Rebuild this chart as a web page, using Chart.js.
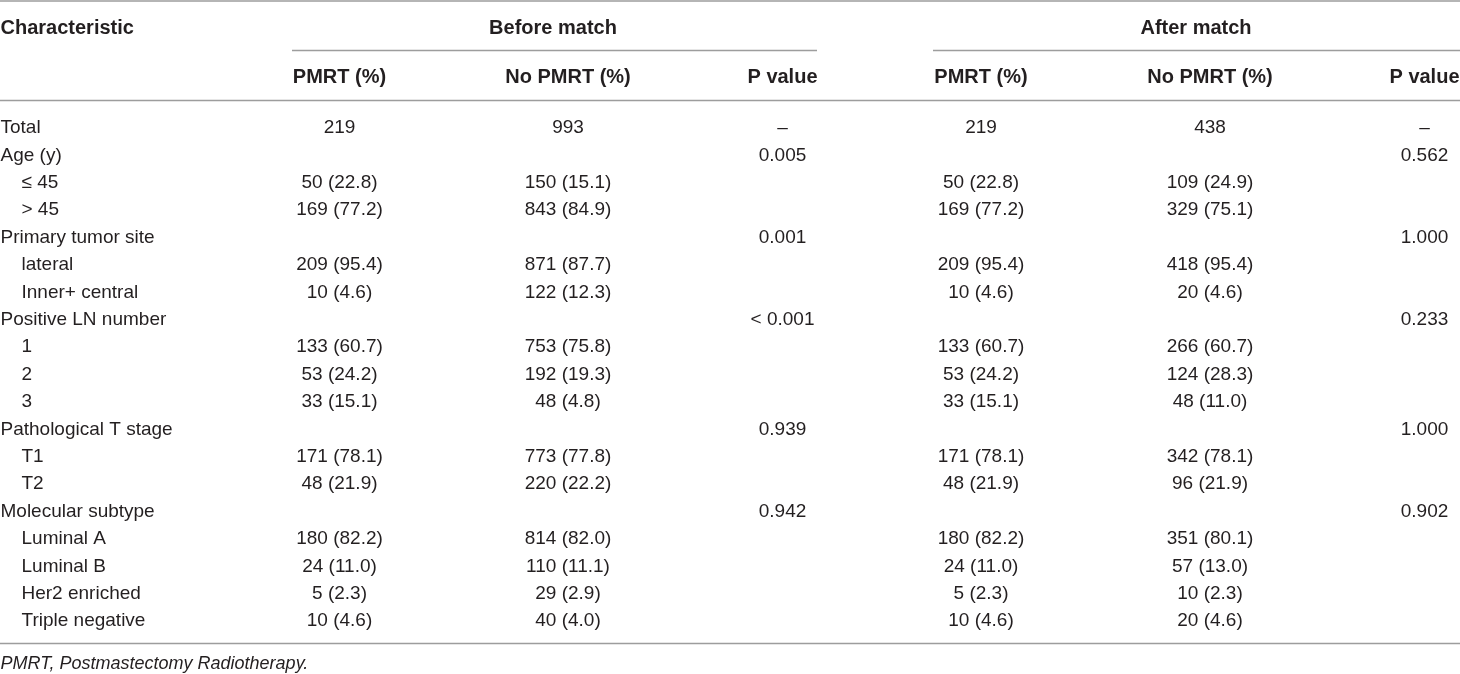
<!DOCTYPE html>
<html>
<head>
<meta charset="utf-8">
<script src="https://cdn.jsdelivr.net/npm/chart.js@4.4.0/dist/chart.umd.min.js"></script>
<style>
  html, body { margin: 0; padding: 0; background: #ffffff; }
  #wrap { width: 1460px; height: 674px; position: relative; }
</style>
</head>
<body>
<div id="wrap"><canvas id="c" width="1460" height="674"></canvas></div>
<script>
// ---------- DATA ----------
const rowLabels = ['Total', 'Age (y)', '≤ 45', '> 45', 'Primary tumor site', 'lateral', 'Inner+ central',
  'Positive LN number', '1', '2', '3', 'Pathological T stage', 'T1', 'T2',
  'Molecular subtype', 'Luminal A', 'Luminal B', 'Her2 enriched', 'Triple negative'];
const rowLevel = [0, 0, 1, 1, 0, 1, 1, 0, 1, 1, 1, 0, 1, 1, 0, 1, 1, 1, 1];

const beforePMRTn   = [219, null, 50, 169, null, 209, 10, null, 133, 53, 33, null, 171, 48, null, 180, 24, 5, 10];
const beforePMRTpct = [null, null, 22.8, 77.2, null, 95.4, 4.6, null, 60.7, 24.2, 15.1, null, 78.1, 21.9, null, 82.2, 11.0, 2.3, 4.6];
const beforeNoPMRTn   = [993, null, 150, 843, null, 871, 122, null, 753, 192, 48, null, 773, 220, null, 814, 110, 29, 40];
const beforeNoPMRTpct = [null, null, 15.1, 84.9, null, 87.7, 12.3, null, 75.8, 19.3, 4.8, null, 77.8, 22.2, null, 82.0, 11.1, 2.9, 4.0];
const beforeP = ['–', '0.005', '', '', '0.001', '', '', '< 0.001', '', '', '', '0.939', '', '', '0.942', '', '', '', ''];

const afterPMRTn   = [219, null, 50, 169, null, 209, 10, null, 133, 53, 33, null, 171, 48, null, 180, 24, 5, 10];
const afterPMRTpct = [null, null, 22.8, 77.2, null, 95.4, 4.6, null, 60.7, 24.2, 15.1, null, 78.1, 21.9, null, 82.2, 11.0, 2.3, 4.6];
const afterNoPMRTn   = [438, null, 109, 329, null, 418, 20, null, 266, 124, 48, null, 342, 96, null, 351, 57, 10, 20];
const afterNoPMRTpct = [null, null, 24.9, 75.1, null, 95.4, 4.6, null, 60.7, 28.3, 11.0, null, 78.1, 21.9, null, 80.1, 13.0, 2.3, 4.6];
const afterP = ['–', '0.562', '', '', '1.000', '', '', '0.233', '', '', '', '1.000', '', '', '0.902', '', '', '', ''];

const groupHeaders = ['Before match', 'After match'];
const columnHeaders = ['PMRT (%)', 'No PMRT (%)', 'P value', 'PMRT (%)', 'No PMRT (%)', 'P value'];
const stubHeader = 'Characteristic';
const footnote = 'PMRT, Postmastectomy Radiotherapy.';

// ---------- LAYOUT (not data) ----------
const W = 1460, H = 674;
const colX = [339.5, 568, 782.5, 981, 1210, 1424.5];
const labelX = [0.5, 21.5];
const groupSpan = [[292, 817], [933, 1460]];
const groupX = [553, 1196];
const FONT = '"Liberation Sans", Arial, Helvetica, sans-serif';
const TEXT = '#231f20';
const RULE = '#9d9d9d';

function fmt(n, p) {
  if (n === null || n === undefined) return '';
  if (p === null || p === undefined) return String(n);
  return n + ' (' + p.toFixed(1) + ')';
}
const colTexts = [
  beforePMRTn.map((n, i) => fmt(n, beforePMRTpct[i])),
  beforeNoPMRTn.map((n, i) => fmt(n, beforeNoPMRTpct[i])),
  beforeP,
  afterPMRTn.map((n, i) => fmt(n, afterPMRTpct[i])),
  afterNoPMRTn.map((n, i) => fmt(n, afterNoPMRTpct[i])),
  afterP
];

const datasets = [];
datasets.push({
  label: 'stub',
  cellText: rowLabels,
  align: 'left',
  data: rowLabels.map((r, i) => ({ x: labelX[rowLevel[i]], y: r })),
  pointRadius: 0
});
colTexts.forEach((texts, c) => {
  datasets.push({
    label: columnHeaders[c],
    cellText: texts,
    align: 'center',
    data: rowLabels.map((r, i) => ({ x: colX[c], y: r })),
    pointRadius: 0
  });
});

const tablePlugin = {
  id: 'tableText',
  afterDatasetsDraw(chart) {
    const ctx = chart.ctx;
    const xs = chart.scales.x;
    ctx.save();
    ctx.fillStyle = TEXT;
    ctx.textBaseline = 'middle';
    // body cells
    ctx.font = '19px ' + FONT;
    chart.data.datasets.forEach((ds, di) => {
      const meta = chart.getDatasetMeta(di);
      ctx.textAlign = ds.align;
      meta.data.forEach((pt, j) => {
        const t = ds.cellText[j];
        if (t) ctx.fillText(t, pt.x, pt.y + 1);
      });
    });
    // header
    ctx.font = 'bold 20px ' + FONT;
    ctx.textAlign = 'left';
    ctx.fillText(stubHeader, xs.getPixelForValue(0.5), 28);
    ctx.textAlign = 'center';
    groupHeaders.forEach((g, k) => ctx.fillText(g, xs.getPixelForValue(groupX[k]), 28));
    columnHeaders.forEach((h, k) => ctx.fillText(h, xs.getPixelForValue(colX[k]), 77));
    // footnote
    ctx.font = 'italic 18px ' + FONT;
    ctx.textAlign = 'left';
    ctx.fillText(footnote, xs.getPixelForValue(0.5), 664);
    // rules
    ctx.strokeStyle = RULE;
    ctx.lineWidth = 1.4;
    const hline = (x1, x2, y) => { ctx.beginPath(); ctx.moveTo(x1, y); ctx.lineTo(x2, y); ctx.stroke(); };
    hline(xs.getPixelForValue(0), xs.getPixelForValue(W), 1);
    groupSpan.forEach(s => hline(xs.getPixelForValue(s[0]), xs.getPixelForValue(s[1]), 50.5));
    hline(xs.getPixelForValue(0), xs.getPixelForValue(W), 100.5);
    hline(xs.getPixelForValue(0), xs.getPixelForValue(W), 643.5);
    ctx.restore();
  }
};

const rowH = 27.4;
const firstRowY = 127;
const padTop = firstRowY - rowH / 2;
const padBottom = H - (padTop + rowH * rowLabels.length);

new Chart(document.getElementById('c'), {
  type: 'scatter',
  data: { labels: rowLabels, datasets },
  options: {
    responsive: false,
    animation: false,
    devicePixelRatio: 1,
    events: [],
    layout: { padding: { top: padTop, bottom: padBottom, left: 0, right: 0 } },
    plugins: { legend: { display: false }, tooltip: { enabled: false } },
    scales: {
      x: { type: 'linear', min: 0, max: W, display: false },
      y: { type: 'category', labels: rowLabels, offset: true, display: false }
    }
  },
  plugins: [tablePlugin]
});
</script>
</body>
</html>
